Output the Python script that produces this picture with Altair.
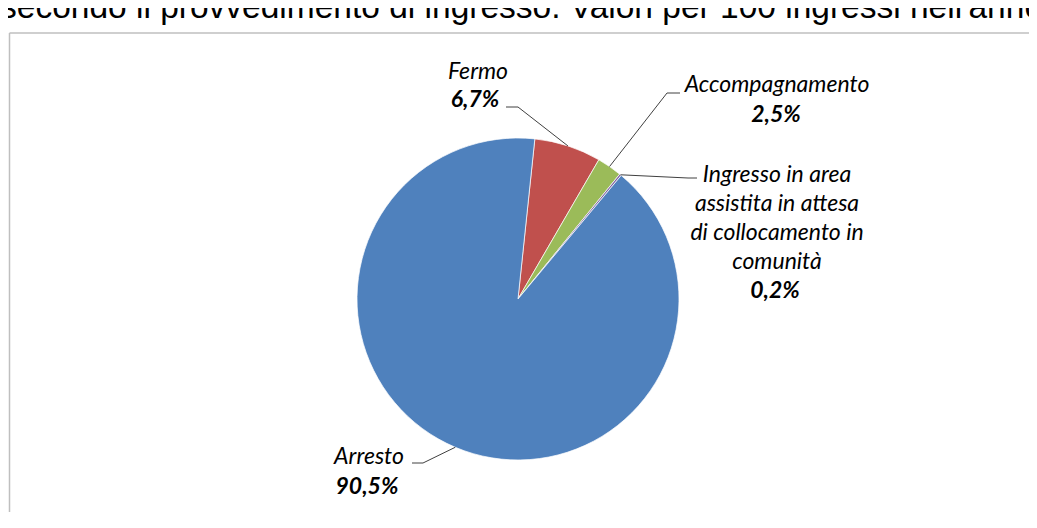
import math
import altair as alt
import pandas as pd

# ---------------- data ----------------
categories = [
    "Fermo",
    "Accompagnamento",
    "Ingresso in area assistita in attesa di collocamento in comunità",
    "Arresto",
]
values = [6.7, 2.5, 0.2, 90.5]
colors = ["#C0504D", "#9BBB59", "#8064A2", "#4F81BD"]
name_lines = [
    ["Fermo"],
    ["Accompagnamento"],
    ["Ingresso in area", "assistita  in attesa", "di collocamento in", "comunità"],
    ["Arresto"],
]
value_labels = [f"{v:.1f}".replace(".", ",") + "%" for v in values]
title_text = "secondo il provvedimento di ingresso. Valori per 100 ingressi nell'anno"

# ---------------- layout (page pixel coordinates) ----------------
OFF = 8
W, H = 1021, 504
CX, CY, R = 518, 299, 161
START_DEG = 6.0
LINE_H = 29
name_pos = [(478, 72), (777, 85), (777, 175), (369, 457)]
value_pos = [(475, 100), (776, 115), (775, 291), (367, 487)]
leader_tail = [
    [(518, 107), (506, 107)],
    [(667, 93), (680, 93)],
    [(688, 178), (697, 178)],
    [(423, 463), (412, 463)],
]
LABEL_FONT = "Lato"
LABEL_SIZE = 23

# ---------------- derived tables ----------------
total = sum(values)
start_rad = math.radians(START_DEG)

pie_df = pd.DataFrame({"categoria": categories, "valore": values, "ordine": list(range(len(values)))})

leader_rows = []
cum = 0.0
for i, v in enumerate(values):
    mid = START_DEG + 360.0 * (cum + v / 2) / total
    cum += v
    a = math.radians(mid)
    ex, ey = CX + R * math.sin(a), CY - R * math.cos(a)
    pts = [(ex, ey)] + leader_tail[i]
    for k, (px, py) in enumerate(pts):
        leader_rows.append({"grp": i, "ord": k, "x": px, "y": py})
leader_df = pd.DataFrame(leader_rows)

name_rows = []
for i, lines in enumerate(name_lines):
    x0, y0 = name_pos[i]
    for j, t in enumerate(lines):
        name_rows.append({"x": x0, "y": y0 + j * LINE_H, "t": t})
name_df = pd.DataFrame(name_rows)

value_df = pd.DataFrame({
    "x": [p[0] for p in value_pos],
    "y": [p[1] for p in value_pos],
    "t": value_labels,
})

xs = alt.Scale(domain=[OFF, OFF + W], nice=False, zero=False)
ys = alt.Scale(domain=[OFF, OFF + H], nice=False, zero=False, reverse=True)

# ---------------- layers ----------------
frame_top = alt.Chart(pd.DataFrame({"k": [0]})).mark_rule(color="#BFBFBF", strokeWidth=1.5).encode(
    x=alt.value(9.5 - OFF), x2=alt.value(W), y=alt.value(33 - OFF)
)
frame_left = alt.Chart(pd.DataFrame({"k": [0]})).mark_rule(color="#BFBFBF", strokeWidth=1.5).encode(
    x=alt.value(9.5 - OFF), y=alt.value(33 - OFF), y2=alt.value(H)
)

title = alt.Chart(pd.DataFrame({"t": [title_text]})).mark_text(
    align="left", baseline="alphabetic", font="Liberation Sans", fontSize=33.5, color="#000000"
).encode(x=alt.value(0 - OFF), y=alt.value(18 - OFF), text="t:N")

pie = alt.Chart(pie_df).mark_arc(outerRadius=R, stroke="#FFFFFF", strokeWidth=0.7).encode(
    theta=alt.Theta("valore:Q", stack=True, scale=alt.Scale(range=[start_rad, start_rad + 2 * math.pi])),
    color=alt.Color("categoria:N", scale=alt.Scale(domain=categories, range=colors), legend=None),
    order=alt.Order("ordine:Q"),
    x=alt.value(CX - OFF),
    y=alt.value(CY - OFF),
)

leaders = alt.Chart(leader_df).mark_line(color="#404040", strokeWidth=1).encode(
    x=alt.X("x:Q", scale=xs, axis=None),
    y=alt.Y("y:Q", scale=ys, axis=None),
    detail="grp:N",
    order="ord:Q",
)

names = alt.Chart(name_df).mark_text(
    align="center", baseline="middle", font=LABEL_FONT, fontSize=LABEL_SIZE,
    fontStyle="italic", color="#000000"
).encode(x=alt.X("x:Q", scale=xs, axis=None), y=alt.Y("y:Q", scale=ys, axis=None), text="t:N")

vals = alt.Chart(value_df).mark_text(
    align="center", baseline="middle", font=LABEL_FONT, fontSize=LABEL_SIZE,
    fontStyle="italic", fontWeight="bold", color="#000000"
).encode(x=alt.X("x:Q", scale=xs, axis=None), y=alt.Y("y:Q", scale=ys, axis=None), text="t:N")

chart = alt.layer(frame_top, frame_left, title, pie, leaders, names, vals).properties(
    width=W, height=H, autosize=alt.AutoSizeParams(type="none"), padding=0, background="#FFFFFF"
).configure_view(stroke=None)

chart.save("out.html", embed_options={"renderer": "svg", "actions": False})
